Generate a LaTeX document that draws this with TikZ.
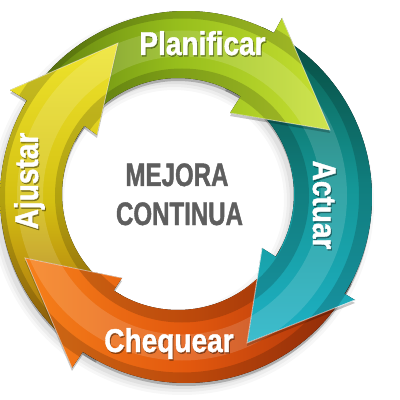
\documentclass[tikz,border=0pt]{standalone}
\usepackage{fontspec}
\newfontfamily\lblfont{Liberation Sans Bold}[FakeStretch=0.85,FakeBold=1.2]
\newfontfamily\ctrfont{Liberation Sans Bold}[FakeStretch=0.74,FakeBold=1.2]
\usetikzlibrary{calc}
\definecolor{gD}{RGB}{92,122,14}
\definecolor{gM}{RGB}{150,190,28}
\definecolor{gL}{RGB}{200,224,50}
\definecolor{tD}{RGB}{10,90,74}
\definecolor{tM}{RGB}{20,150,150}
\definecolor{tL}{RGB}{30,178,198}
\definecolor{oL}{RGB}{246,128,26}
\definecolor{oM}{RGB}{226,88,14}
\definecolor{oD}{RGB}{170,50,10}
\definecolor{yL}{RGB}{238,228,44}
\definecolor{yM}{RGB}{212,192,18}
\definecolor{yD}{RGB}{160,92,12}
\definecolor{ctrgray}{RGB}{94,94,94}
\def\greenpath{($(Co)+(152:186)$) arc[start angle=152,end angle=61.8,radius=186] -- (282,382) -- (330,270) -- (230,287) -- ($(Ci)+(57.3:116)$) arc[start angle=57.3,end angle=152,radius=116] -- cycle}
\def\greenhead{(282,382) -- (330,270) -- (230,287)}
\def\tealpath{($(Co)+(66:186)$) arc[start angle=66,end angle=-31.4,radius=186] -- (355,100) -- (247,57) -- (262,152) -- ($(Ci)+(-32.7:116)$) arc[start angle=-32.7,end angle=66,radius=116] -- cycle}
\def\tealhead{(355,100) -- (247,57) -- (262,152)}
\def\orangepath{($(Co)+(-27:186)$) arc[start angle=-27,end angle=-123.7,radius=186] -- (72,32) -- (25,142) -- (122,122) -- ($(Ci)+(-123.7:116)$) arc[start angle=-123.7,end angle=-27,radius=116] -- cycle}
\def\orangehead{(72,32) -- (25,142) -- (122,122)}
\def\yellowpath{($(Co)+(-119:186)$) arc[start angle=-119,end angle=-211.3,radius=186] -- (10,310) -- (118,357) -- (97,265) -- ($(Ci)+(-216.1:116)$) arc[start angle=-216.1,end angle=-119,radius=116] -- cycle}
\def\yellowhead{(10,310) -- (118,357) -- (97,265)}
\newcommand\arrowdraw[3]{%
  \fill[black,opacity=0.22,transform canvas={shift={(0,-3)}}] #1;
  \fill[#2] #1;
  \begin{scope}
    \clip #1;
    \draw[black,opacity=0.16,line width=14] (Cm) circle[radius=120];
    \draw[black,opacity=0.16,line width=14] (Cm) circle[radius=184];
    \draw[white,opacity=0.14,line width=26] (Cm) circle[radius=152];
  \end{scope}
  \draw[white,opacity=0.55,line width=0.8] #3;
}
\newcommand\lab[4]{%
  \node[lbl,text=black,opacity=0.35,anchor=base,rotate=#2] at ($#1+(1,-1.5)$) {#3};
  \node[lbl,anchor=base,rotate=#2] (#4) at #1 {#3};
}
\begin{document}
\begin{tikzpicture}[x=1pt,y=1pt,
  lbl/.style={text=white,font=\lblfont\fontsize{33}{33}\selectfont,inner sep=0pt},
  ctr/.style={text=ctrgray,font=\ctrfont\fontsize{32.5}{32.5}\selectfont,inner sep=0pt},
  greenfill/.style={left color=gD,right color=gL,middle color=gM},
  tealfill/.style={top color=tD,bottom color=tL,middle color=tM},
  orangefill/.style={left color=oL,right color=oD,middle color=oM},
  yellowfill/.style={top color=yL,bottom color=yD,middle color=yM}]
\useasboundingbox (0,0) rectangle (400,400);
\fill[white] (0,0) rectangle (400,400);
\coordinate (Co) at (186,203);
\coordinate (Ci) at (178,206);
\coordinate (Cm) at (182,204.5);
% soft ring shadow
\foreach \d/\o in {0/0.05,3/0.04,6/0.03}{
  \fill[black,opacity=\o,even odd rule,transform canvas={shift={(-4,-6)}}]
    (Co) circle[radius=186+\d] (Ci) circle[radius=116-\d];
}
\arrowdraw{\tealpath}{tealfill}{\tealhead}
\arrowdraw{\greenpath}{greenfill}{\greenhead}
\arrowdraw{\yellowpath}{yellowfill}{\yellowhead}
\begin{scope}[even odd rule]
  \clip (-10,-10) rectangle (410,410) \tealpath;
  \begin{scope}[nonzero rule]
    \arrowdraw{\orangepath}{orangefill}{\orangehead}
  \end{scope}
\end{scope}
\begin{scope}
  \clip \orangepath;
  \begin{scope}[even odd rule]
    \clip (-10,-10) rectangle (410,410) \tealpath;
    \fill[black,opacity=0.22,transform canvas={shift={(0,-3)}}] \tealpath;
  \end{scope}
\end{scope}
\draw[white,opacity=0.55,line width=0.8] \tealhead;
\lab{(202.5,345)}{0}{Planificar}{plan}
\lab{(313,195)}{-90}{Actuar}{act}
\lab{(169,48)}{0}{Chequear}{cheq}
\lab{(38,219)}{90}{Ajustar}{ajus}
\node[ctr,anchor=base] (m1) at (177,214) {MEJORA};
\node[ctr,anchor=base] (m2) at (179.5,175) {CONTINUA};
\end{tikzpicture}
\end{document}
